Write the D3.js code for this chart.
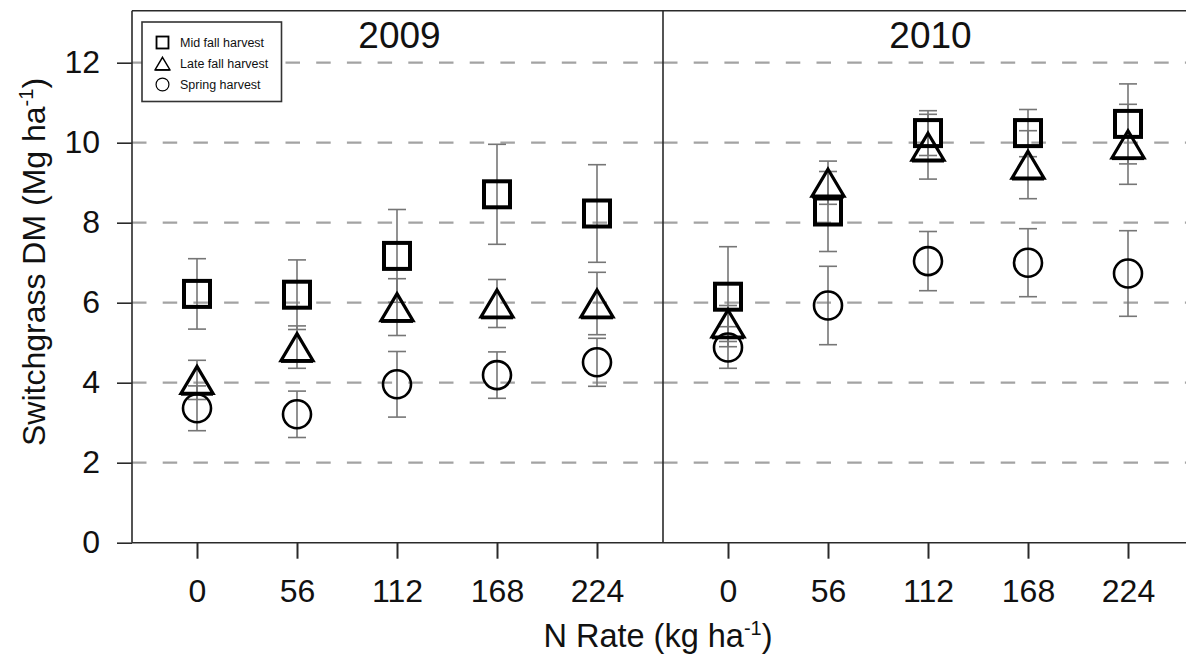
<!DOCTYPE html>
<html>
<head>
<meta charset="utf-8">
<script src="https://cdn.jsdelivr.net/npm/d3@7/dist/d3.min.js"></script>
<style>
  html, body { margin: 0; padding: 0; background: #fff; }
  svg { display: block; }
  text { font-family: "Liberation Sans", Arial, Helvetica, sans-serif; fill: #111; }
</style>
</head>
<body>
<svg id="chart" width="1186" height="656"></svg>
<script>
// N application rates (kg ha-1) and the two study years
const rates = [0, 56, 112, 168, 224];
const years = ["2009", "2010"];
const yTicks = [0, 2, 4, 6, 8, 10, 12];

// Switchgrass dry matter yield (Mg ha-1) by harvest timing, with error bars
const midFall2009 = [6.22, 6.20, 7.17, 8.71, 8.23];
const midFall2009Err = [0.88, 0.87, 1.16, 1.25, 1.22];
const lateFall2009 = [4.07, 4.89, 5.89, 5.98, 5.98];
const lateFall2009Err = [0.49, 0.53, 0.71, 0.60, 0.78];
const spring2009 = [3.36, 3.21, 3.96, 4.19, 4.51];
const spring2009Err = [0.56, 0.58, 0.82, 0.58, 0.60];

const midFall2010 = [6.15, 8.28, 10.24, 10.24, 10.47];
const midFall2010Err = [1.25, 1.00, 0.56, 0.59, 1.00];
const lateFall2010 = [5.48, 9.00, 9.90, 9.45, 9.96];
const lateFall2010Err = [0.45, 0.54, 0.81, 0.85, 1.00];
const spring2010 = [4.88, 5.93, 7.04, 7.00, 6.73];
const spring2010Err = [0.52, 0.98, 0.74, 0.85, 1.07];

const seriesNames = ["Mid fall harvest", "Late fall harvest", "Spring harvest"];
const seriesShapes = ["square", "triangle", "circle"];

const panels = [
  { year: "2009", series: [
    { shape: "square", values: midFall2009, err: midFall2009Err },
    { shape: "triangle", values: lateFall2009, err: lateFall2009Err },
    { shape: "circle", values: spring2009, err: spring2009Err } ] },
  { year: "2010", series: [
    { shape: "square", values: midFall2010, err: midFall2010Err },
    { shape: "triangle", values: lateFall2010, err: lateFall2010Err },
    { shape: "circle", values: spring2010, err: spring2010Err } ] }
];

const svg = d3.select("#chart");

// Frame geometry
const plotLeft = 132, panelW = 531, plotTop = 10.7;
const y = d3.scaleLinear().domain([0, 12]).range([542.7, 62.7]);
const plotBottom = y(0);
const panelX = d3.scaleBand().domain(years).range([plotLeft, plotLeft + 2 * panelW]).paddingInner(0).paddingOuter(0);

function xScaleFor(year) {
  const x0 = panelX(year);
  return d3.scalePoint().domain(rates).range([x0 + 65, x0 + 465]);
}

// Dashed horizontal gridlines, restarting in each panel
panels.forEach(p => {
  const x0 = panelX(p.year);
  svg.append("g").selectAll("line").data(yTicks.filter(t => t > 0)).join("line")
    .attr("x1", x0).attr("x2", x0 + panelW)
    .attr("y1", d => y(d)).attr("y2", d => y(d))
    .attr("stroke", "#a3a3a3").attr("stroke-width", 2.2)
    .attr("stroke-dasharray", "14.5,16.2");
});

// Frame: top, left, bottom, and panel divider
const frame = svg.append("g").attr("stroke", "#2a2a2a").attr("stroke-width", 1.6).attr("fill", "none");
frame.append("line").attr("x1", plotLeft).attr("x2", 1200).attr("y1", plotTop).attr("y2", plotTop);
frame.append("line").attr("x1", plotLeft).attr("x2", 1200).attr("y1", plotBottom).attr("y2", plotBottom);
frame.append("line").attr("x1", plotLeft).attr("x2", plotLeft).attr("y1", plotTop).attr("y2", plotBottom);
frame.append("line").attr("x1", panelX("2010")).attr("x2", panelX("2010")).attr("y1", plotTop).attr("y2", plotBottom);

// Y axis
const yAxis = d3.axisLeft(y).tickValues(yTicks).tickSize(15).tickPadding(17).tickFormat(d3.format("d"));
const gy = svg.append("g").attr("transform", `translate(${plotLeft},0)`).call(yAxis);
gy.select(".domain").remove();
gy.selectAll(".tick line").attr("stroke", "#2a2a2a").attr("stroke-width", 1.6);
gy.selectAll(".tick text").attr("font-size", 32).attr("fill", "#111")
  .attr("font-family", "'Liberation Sans', Arial, sans-serif");

// X axes, one per panel
panels.forEach(p => {
  const x = xScaleFor(p.year);
  const gx = svg.append("g").attr("transform", `translate(0,${plotBottom})`)
    .call(d3.axisBottom(x).tickSize(16).tickPadding(21));
  gx.select(".domain").remove();
  gx.selectAll(".tick line").attr("stroke", "#2a2a2a").attr("stroke-width", 2);
  gx.selectAll(".tick text").attr("font-size", 32).attr("fill", "#111")
    .attr("font-family", "'Liberation Sans', Arial, sans-serif");

  // Year heading
  svg.append("text").attr("x", panelX(p.year) + panelW / 2 + 2).attr("y", 48)
    .attr("text-anchor", "middle").attr("font-size", 37).text(p.year);
});

// Marker drawing helpers
function drawMarker(g, shape, cx, cy, scale) {
  const k = scale || 1;
  if (shape === "square") {
    const s = 26 * k;
    g.append("rect").attr("x", cx - s / 2).attr("y", cy - s / 2)
      .attr("width", s).attr("height", s)
      .attr("fill", "none").attr("stroke", "#000").attr("stroke-width", 4 * k);
  } else if (shape === "triangle") {
    const w = 32 * k, h = 27 * k;
    g.append("path")
      .attr("d", `M${cx},${cy - h / 2} L${cx + w / 2},${cy + h / 2} L${cx - w / 2},${cy + h / 2} Z`)
      .attr("fill", "none").attr("stroke", "#000").attr("stroke-width", 3.2 * k)
      .attr("stroke-linejoin", "miter");
    // heavier base edge
    g.append("line").attr("x1", cx - w / 2).attr("x2", cx + w / 2)
      .attr("y1", cy + h / 2 + 0.8 * k).attr("y2", cy + h / 2 + 0.8 * k)
      .attr("stroke", "#000").attr("stroke-width", 3 * k);
  } else {
    g.append("circle").attr("cx", cx).attr("cy", cy).attr("r", 14 * k)
      .attr("fill", "none").attr("stroke", "#000").attr("stroke-width", 2.6 * k);
  }
}

// Error bars then markers for each panel
panels.forEach(p => {
  const x = xScaleFor(p.year);
  const gErr = svg.append("g").attr("stroke", "#767676").attr("stroke-width", 1.6);
  p.series.forEach(s => {
    s.values.forEach((v, i) => {
      const cx = x(rates[i]);
      const e = s.err[i];
      gErr.append("line").attr("x1", cx).attr("x2", cx).attr("y1", y(v + e)).attr("y2", y(v - e));
      [v + e, v - e].forEach(t => {
        gErr.append("line").attr("x1", cx - 9).attr("x2", cx + 9).attr("y1", y(t)).attr("y2", y(t));
      });
    });
  });
  const gMk = svg.append("g");
  p.series.forEach(s => {
    s.values.forEach((v, i) => drawMarker(gMk, s.shape, x(rates[i]), y(v)));
  });
});

// Legend
const lg = svg.append("g").attr("transform", "translate(142,22)");
lg.append("rect").attr("width", 139.5).attr("height", 79.5)
  .attr("fill", "#fff").attr("stroke", "#333").attr("stroke-width", 1.6);
seriesNames.forEach((name, i) => {
  const cy = 20.5 + i * 21;
  drawMarker(lg, seriesShapes[i], 20.5, cy, 0.46);
  lg.append("text").attr("x", 38).attr("y", cy + 4.5).attr("font-size", 12.5)
    .attr("fill", "#222").text(name);
});

// Axis titles
svg.append("text").attr("transform", "translate(45,262) rotate(-90)")
  .attr("text-anchor", "middle").attr("font-size", 32)
  .call(t => {
    t.append("tspan").text("Switchgrass DM (Mg ha");
    t.append("tspan").attr("font-size", 20).attr("dy", -12).text("-1");
    t.append("tspan").attr("dy", 12).text(")");
  });

svg.append("text").attr("x", 658).attr("y", 647)
  .attr("text-anchor", "middle").attr("font-size", 32.5)
  .call(t => {
    t.append("tspan").text("N Rate (kg ha");
    t.append("tspan").attr("font-size", 20).attr("dy", -12).text("-1");
    t.append("tspan").attr("dy", 12).text(")");
  });
</script>
</body>
</html>
